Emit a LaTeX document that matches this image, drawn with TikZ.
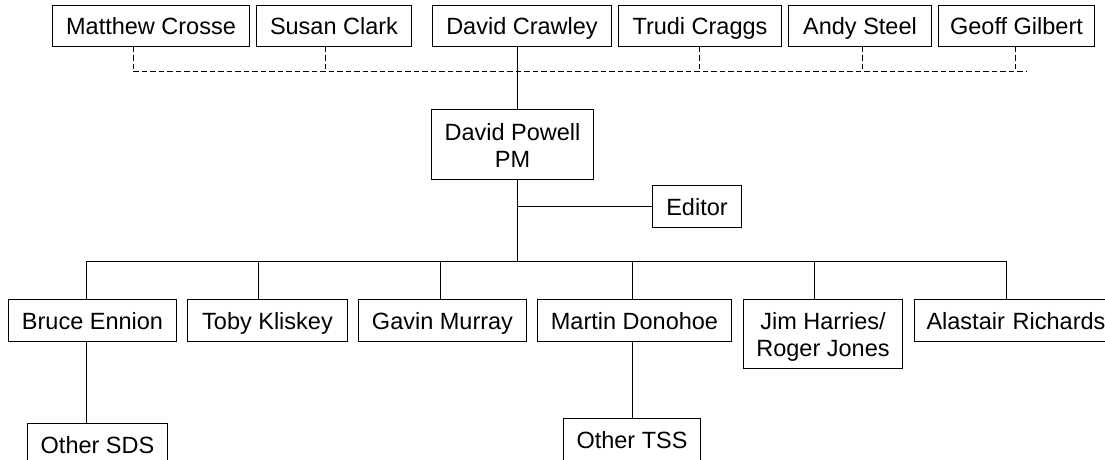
\documentclass[tikz,border=0pt]{standalone}
\usepackage{fontspec}
\setmainfont{Liberation Sans}
\newcommand{\firstlinestrut}{\rule{0pt}{18pt}}
\tikzset{
  pbox/.style={draw, line width=1pt, inner sep=0pt, anchor=north west, align=center,
    minimum height=42pt, font=\fontsize{23.5}{27}\selectfont},
  onebox/.style={pbox, text height=18pt, text depth=0pt},
  link/.style={line width=1pt},
  dlink/.style={line width=1pt, dash pattern=on 5.5pt off 3pt}
}
\begin{document}
\begin{tikzpicture}[x=1pt,y=-1pt]
\useasboundingbox (0,0) rectangle (1105,460);
\fill[white] (0,0) rectangle (1105,460);
\clip (0,0) rectangle (1105,460);
% top row
\node[onebox, minimum width=197pt, minimum height=41pt] (mc) at (52,5) {Matthew Crosse};
\node[onebox, minimum width=155pt, minimum height=41pt] (sc) at (256,5) {Susan Clark};
\node[onebox, minimum width=179pt, minimum height=41pt] (dc) at (432,5) {David Crawley};
\node[onebox, minimum width=163pt, minimum height=41pt] (tc) at (618,5) {Trudi Craggs};
\node[onebox, minimum width=143pt, minimum height=41pt] (as) at (788,5) {Andy Steel};
\node[onebox, minimum width=156pt, minimum height=41pt] (gg) at (938,5) {Geoff Gilbert};
% middle
\node[pbox, minimum width=162pt, minimum height=70pt] (dp) at (431,109) {\firstlinestrut David Powell\\\smash{PM}};
\node[onebox, minimum width=89pt, minimum height=42pt] (ed) at (652,185) {Editor};
% second row
\node[onebox, minimum width=168pt] (be) at (8,299) {Bruce Ennion};
\node[onebox, minimum width=160pt] (tk) at (187,299) {Toby Kliskey};
\node[onebox, minimum width=168pt] (gm) at (358,299) {Gavin Murray};
\node[onebox, minimum width=194pt] (md) at (537,299) {Martin Donohoe};
\node[pbox, minimum width=159pt, minimum height=69pt] (jh) at (743,299) {\firstlinestrut Jim Harries/\\\smash{Roger Jones}};
\node[onebox, minimum width=204pt, text width=180pt, align=left] (ar) at (914,299) {Alastair Richards};
% bottom
\node[onebox, minimum width=140pt] (os) at (27,423) {Other SDS};
\node[onebox, minimum width=137pt] (ot) at (563,418) {Other TSS};
% dashed advisory line
\coordinate (dl) at (133,71);
\coordinate (dr) at (1026,71);
\draw[dlink] (dl) -- (dr);
\draw[dlink] (mc.south -| dl) -- (dl);
\draw[dlink] ([xshift=-8.5]sc.south) -- ([xshift=-8.5]sc.south |- dl);
\draw[dlink] ([xshift=-0.5]tc.south) -- ([xshift=-0.5]tc.south |- dl);
\draw[dlink] ([xshift=2.5]as.south) -- ([xshift=2.5]as.south |- dl);
\draw[dlink] ([xshift=-1]gg.south) -- ([xshift=-1]gg.south |- dl);
% solid tree
\coordinate (spine) at (517,261);
\draw[link] ([xshift=-4.5]dc.south) -- ([xshift=-4.5]dc.south |- dp.north);
\draw[link] (dp.south -| spine) -- (spine);
\draw[link] (ed.west -| spine) -- (ed.west);
\coordinate (b1) at (86,261);
\coordinate (b2) at (258,261);
\coordinate (b3) at (440,261);
\coordinate (b4) at (632,261);
\coordinate (b5) at (814,261);
\coordinate (b6) at (1006,261);
\draw[link] (b1) -- (b6);
\draw[link] (b1) -- (b1 |- be.north);
\draw[link] (b2) -- (b2 |- tk.north);
\draw[link] (b3) -- (b3 |- gm.north);
\draw[link] (b4) -- (b4 |- md.north);
\draw[link] (b5) -- (b5 |- jh.north);
\draw[link] (b6) -- (b6 |- ar.north);
\draw[link] (be.south -| b1) -- (os.north -| b1);
\draw[link] (md.south -| b4) -- (ot.north -| b4);
\end{tikzpicture}
\end{document}
